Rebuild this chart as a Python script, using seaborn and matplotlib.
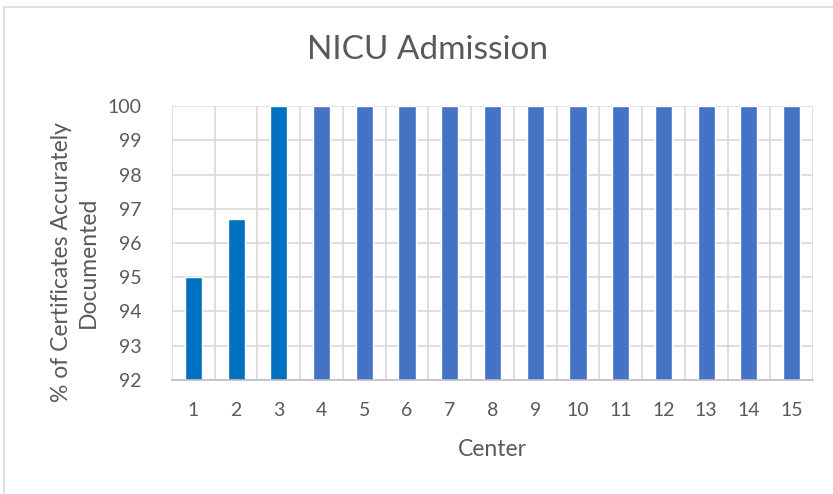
import matplotlib
matplotlib.use("Agg")
import matplotlib.pyplot as plt
import seaborn as sns
import numpy as np
from matplotlib.patches import Rectangle

centers = [str(i) for i in range(1, 16)]
values = [95, 96.7, 100, 100, 100, 100, 100, 100, 100, 100, 100, 100, 100, 100, 100]
colors = ["#0070C0"] * 3 + ["#4472C4"] * 12
yticks = [92, 93, 94, 95, 96, 97, 98, 99, 100]

sns.set_theme(style="white")
plt.rcParams['font.family'] = ['Lato', 'DejaVu Sans']

fig = plt.figure(figsize=(8.33, 4.94), dpi=100)
ax = fig.add_axes([0.2065, 0.231, 0.7695, 0.554])

sns.barplot(x=centers, y=values, hue=centers, palette=colors, legend=False,
            width=0.4, saturation=1, ax=ax)

ax.set_ylim(92, 100)
ax.set_xlim(-0.5, 14.5)
ax.set_yticks(yticks)
ax.set_yticklabels([str(t) for t in yticks])
ax.set_xticks(range(len(centers)))
ax.set_xticks(np.arange(-0.5, 15, 1), minor=True)
ax.grid(True, axis='y', which='major', color='#D9D9D9', linewidth=1.2)
ax.grid(True, axis='x', which='minor', color='#D9D9D9', linewidth=1.2)
ax.grid(False, axis='x', which='major')
ax.set_axisbelow(True)
for s in ['top', 'right', 'left']:
    ax.spines[s].set_visible(False)
ax.spines['bottom'].set_color('#BFBFBF')
ax.spines['bottom'].set_linewidth(1.2)
ax.tick_params(axis='both', which='both', length=0, colors='#595959', labelsize=14)
ax.tick_params(axis='x', pad=16)
ax.tick_params(axis='y', pad=22)

ax.set_xlabel("Center", fontsize=16.5, color='#595959', labelpad=14)
ax.set_ylabel("")
fig.text(75/833, 0.47, "% of Certificates Accurately\nDocumented", rotation=90,
         ha='center', va='center', fontsize=16.5, color='#595959',
         multialignment='center', linespacing=1.3)
fig.text(0.513, 1 - 50/494, "NICU Admission", ha='center', va='center', fontsize=24, color='#595959')

fig.patches.append(Rectangle((4/833, -0.1), 1.2, 1 - 7/494 + 0.1, transform=fig.transFigure,
                             fill=False, edgecolor='#D9D9D9', linewidth=1.2))

fig.savefig("out.png", dpi=100)
